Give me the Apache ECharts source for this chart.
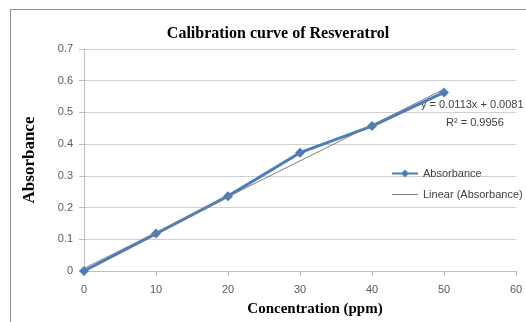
<!DOCTYPE html>
<html>
<head>
<meta charset="utf-8">
<script src="https://cdn.jsdelivr.net/npm/echarts@6/dist/echarts.min.js"></script>
<style>
  html, body { margin: 0; padding: 0; background: #fff; }
  #chart { width: 526px; height: 322px; }
</style>
</head>
<body>
<div id="chart"></div>
<script>
// data
var concentration = [0, 10, 20, 30, 40, 50];
var absorbance = [0, 0.118, 0.236, 0.373, 0.457, 0.563];
// trend line from the fitted equation
var slope = 0.0113;
var intercept = 0.0081;
var trendX = [0, 50];

var chart = echarts.init(document.getElementById('chart'));

var seriesData = concentration.map(function (x, i) { return [x, absorbance[i]]; });
var trendData = trendX.map(function (x) { return [x, slope * x + intercept]; });

var sans = 'Liberation Sans, Arial, sans-serif';
var serif = 'Liberation Serif, Times New Roman, serif';

var option = {
    backgroundColor: '#fff',
    animation: false,
    title: {
        text: 'Calibration curve of Resveratrol',
        left: 273,
        top: 21,
        textAlign: 'center',
        textStyle: { fontFamily: serif, fontWeight: 'bold', fontSize: 16, color: '#000' }
    },
    legend: {
        orient: 'vertical',
        left: 387,
        top: 163,
        itemGap: 10,
        itemWidth: 26,
        itemHeight: 10,
        textStyle: { color: '#404040', fontSize: 11, fontFamily: sans },
        data: [
            { name: 'Absorbance', icon: 'path://M0,4 L26,4 L26,6 L0,6 Z M13,1 L17,5 L13,9 L9,5 Z' },
            { name: 'Linear (Absorbance)', icon: 'path://M0,4.5 L26,4.5 L26,5.5 L0,5.5 Z' }
        ]
    },
    grid: { left: 84, right: 10, top: 49, bottom: 49 },
    xAxis: {
        type: 'value',
        min: 0, max: 60, interval: 10,
        name: 'Concentration (ppm)',
        nameLocation: 'middle',
        nameGap: 31,
        nameTextStyle: { fontFamily: serif, fontWeight: 'bold', fontSize: 15, color: '#000', padding: [0, 0, 0, 30] },
        axisLine: { show: true, lineStyle: { color: '#bfbfbf' } },
        axisTick: { show: true, length: 5, lineStyle: { color: '#bfbfbf' } },
        axisLabel: { color: '#595959', fontSize: 11, fontFamily: sans, margin: 13 },
        splitLine: { show: false }
    },
    yAxis: {
        type: 'value',
        min: 0, max: 0.7, interval: 0.1,
        name: 'Absorbance',
        nameLocation: 'middle',
        nameGap: 46,
        nameTextStyle: { fontFamily: serif, fontWeight: 'bold', fontSize: 17, color: '#000' },
        axisLine: { show: true, lineStyle: { color: '#bfbfbf' } },
        axisTick: { show: true, length: 5, lineStyle: { color: '#bfbfbf' } },
        axisLabel: { color: '#595959', fontSize: 11, fontFamily: sans, margin: 11 },
        splitLine: { show: true, lineStyle: { color: '#d0d0d0' } }
    },
    series: [
        {
            name: 'Absorbance',
            type: 'line',
            data: seriesData,
            symbol: 'diamond',
            symbolSize: 10,
            itemStyle: { color: '#4a7ebb' },
            lineStyle: { color: '#4a7ebb', width: 3 },
            z: 3
        },
        {
            name: 'Linear (Absorbance)',
            type: 'line',
            data: trendData,
            symbol: 'none',
            itemStyle: { color: '#808080' },
            lineStyle: { color: '#808080', width: 1 },
            z: 4
        }
    ],
    graphic: [
        {
            type: 'rect',
            shape: { x: 10.5, y: 9.5, width: 530, height: 330 },
            style: { fill: 'none', stroke: '#8c8c8c', lineWidth: 1 },
            silent: true,
            z: -1
        },
        {
            type: 'text',
            left: 421, top: 99,
            style: { text: 'y = 0.0113x + 0.0081', fill: '#404040', font: '11px Liberation Sans, Arial, sans-serif' }
        },
        {
            type: 'text',
            left: 446, top: 117,
            style: { text: 'R² = 0.9956', fill: '#404040', font: '11px Liberation Sans, Arial, sans-serif' }
        }
    ]
};

chart.setOption(option);
</script>
</body>
</html>
